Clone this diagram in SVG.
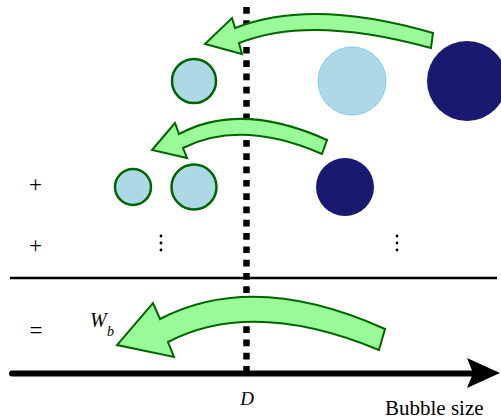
<svg xmlns="http://www.w3.org/2000/svg" width="501" height="419" viewBox="0 0 501 419">
<defs>
<style>
.arrow{fill:#98FB98;stroke:#006400;stroke-width:2;stroke-linejoin:miter}
.gc{fill:#ADD8E6;stroke:#006400;stroke-width:2.5}
.nv{fill:#191970}
.lb{fill:#ADD8E6;stroke:#87CEEB;stroke-width:1}
.sym{font-family:"Liberation Serif","Times New Roman",serif;fill:#000}
.it{font-family:"Liberation Serif","Times New Roman",serif;font-style:italic;fill:#000}
</style>
</defs>
<rect width="501" height="419" fill="#fff"/>
<g id="divider">
<line x1="10" y1="278" x2="497" y2="278" stroke="#000" stroke-width="2.5"/>
</g>
<g id="axis">
<line x1="12" y1="373.5" x2="475" y2="373.5" stroke="#000" stroke-width="6" stroke-linecap="round"/>
<path d="M500,373 L467,358 L473,373 L467,388 Z" fill="#000"/>
</g>
<g id="threshold">
<line x1="246.5" y1="7" x2="246.5" y2="372" stroke="#000" stroke-width="6.5" stroke-dasharray="6.7 6.6"/>
</g>
<g id="row1">
<circle id="c1a" class="gc" cx="194" cy="81" r="22"/>
<circle id="c1b" class="lb" cx="352" cy="81" r="34"/>
<circle id="c1c" class="nv" cx="467" cy="81" r="40"/>
</g>
<g id="row2">
<circle id="c2a" class="gc" cx="133" cy="187" r="18"/>
<circle id="c2b" class="gc" cx="194" cy="187" r="22.5"/>
<circle id="c2c" class="nv" cx="345" cy="187" r="29"/>
</g>
<g id="connectors">
<path id="a1" class="arrow" d="M433,33 Q312,-2.5 235,28 L232,18 L205,44 L242,54 L239,43 Q310,14.5 431,48 Z"/>
<path id="a2" class="arrow" d="M327,140 Q241,101 179,134 L175,123 L152,150 L187,158 L183,148 Q241,119 322,154 Z"/>
<path id="a3" class="arrow" d="M385,329 Q254,270 160,319 L153,303 L117,345 L174,357 L168,342 Q253,298 379,350 Z"/>
</g>
<g id="labels">
<text class="sym" x="35.5" y="191.5" font-size="23" text-anchor="middle">+</text>
<text class="sym" x="35.5" y="252.5" font-size="23" text-anchor="middle">+</text>
<text class="sym" x="36" y="338" font-size="23" text-anchor="middle">=</text>
<g fill="#000">
<circle cx="161" cy="236" r="1.4"/><circle cx="161" cy="243" r="1.4"/><circle cx="161" cy="250" r="1.4"/>
<circle cx="397" cy="236" r="1.4"/><circle cx="397" cy="243" r="1.4"/><circle cx="397" cy="250" r="1.4"/>
</g>
<text class="it" x="90" y="327" font-size="20">W<tspan x="107" y="336" font-size="14">b</tspan></text>
<text class="it" x="247" y="405" font-size="19" text-anchor="middle">D</text>
<text class="sym" x="385" y="415" font-size="21">Bubble size</text>
</g>
</svg>
